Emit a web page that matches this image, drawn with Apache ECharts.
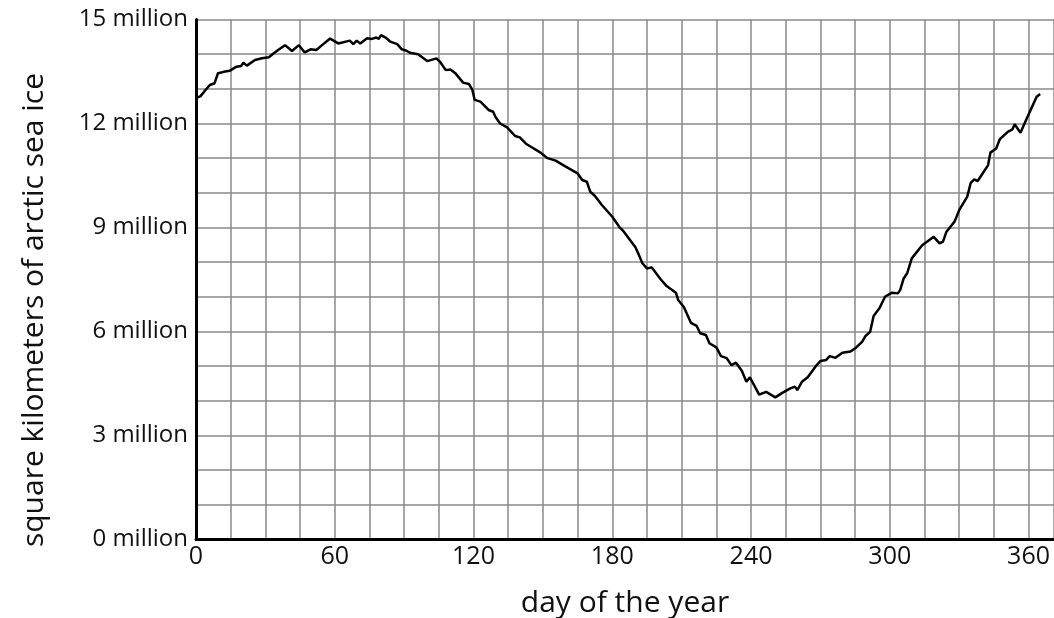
<!DOCTYPE html>
<html lang="en">
<head>
<meta charset="UTF-8">
<title>Arctic sea ice</title>
<script src="https://cdn.jsdelivr.net/npm/echarts@6/dist/echarts.min.js"></script>
<style>
  html, body { margin: 0; padding: 0; background: #fff; }
  #main { width: 1054px; height: 618px; }
</style>
</head>
<body>
<div id="main"></div>
<script>
// day of the year
var days = [0, 2, 4, 6, 8, 9.5, 12, 14.5, 17.5, 19.5, 20.5, 22, 25.5, 28.5, 31.5, 33.5, 35.5, 38.5, 41.5, 44.5,
  47, 49.5, 52, 54.5, 58, 61.5, 66.5, 68, 69.5, 71, 74, 76, 78, 79, 80, 82, 84, 87, 89, 91,
  92.5, 96, 100, 104, 105.5, 108, 110, 112, 115.5, 118, 119.5, 120.5, 123, 126.5, 128.5, 129.5, 131.5, 134.5, 138, 140,
  143, 149, 152, 155.5, 159.5, 165, 167, 169, 170.5, 172.5, 175.5, 180, 183, 185, 190, 191.5, 193, 195, 197, 201,
  203.5, 207.5, 208.5, 211, 214, 216.5, 218, 220.5, 222, 225, 227, 229.5, 231.5, 233.5, 236, 238, 239.5, 243.5, 246.5, 250.5,
  253.5, 257, 259, 260, 262, 264.5, 268, 270, 272.5, 274, 276.5, 279.5, 283, 285.5, 288, 289.5, 291.5, 293, 295.5, 298,
  301, 303.5, 304.5, 306, 307.5, 309.5, 314, 319, 321.5, 323, 324.5, 328, 330, 333.5, 335, 336.5, 338, 342.5, 343.5, 346,
  347.5, 351, 353, 354, 356.5, 359.5, 361.5, 363.5, 365];
// square kilometers of sea ice, in millions
var iceExtent = [12.73, 12.79, 12.96, 13.11, 13.16, 13.45, 13.49, 13.52, 13.64, 13.66, 13.75, 13.67, 13.83, 13.88, 13.91, 14.02, 14.12, 14.26, 14.09, 14.26,
  14.05, 14.14, 14.12, 14.26, 14.45, 14.31, 14.39, 14.29, 14.39, 14.31, 14.46, 14.44, 14.48, 14.44, 14.55, 14.48, 14.36, 14.29, 14.14, 14.10,
  14.04, 14.00, 13.80, 13.88, 13.78, 13.54, 13.56, 13.46, 13.18, 13.14, 12.97, 12.68, 12.63, 12.39, 12.34, 12.19, 12.00, 11.89, 11.64, 11.60,
  11.40, 11.16, 11.00, 10.93, 10.77, 10.56, 10.37, 10.32, 10.03, 9.91, 9.65, 9.31, 9.02, 8.88, 8.43, 8.21, 7.97, 7.82, 7.85, 7.50,
  7.31, 7.12, 6.91, 6.70, 6.25, 6.16, 5.95, 5.90, 5.66, 5.54, 5.29, 5.23, 5.03, 5.10, 4.87, 4.55, 4.68, 4.18, 4.26, 4.10,
  4.23, 4.36, 4.41, 4.31, 4.55, 4.68, 5.00, 5.15, 5.18, 5.29, 5.24, 5.39, 5.42, 5.54, 5.70, 5.87, 5.99, 6.45, 6.67, 7.01,
  7.12, 7.10, 7.20, 7.53, 7.68, 8.11, 8.49, 8.73, 8.54, 8.59, 8.88, 9.17, 9.50, 9.89, 10.29, 10.39, 10.34, 10.80, 11.16, 11.28,
  11.54, 11.76, 11.83, 11.98, 11.73, 12.19, 12.48, 12.77, 12.85];

var xLabelEvery = 60;   // labelled days
var yLabelEvery = 3;    // labelled millions

var font = '"Open Sans", sans-serif';

var points = days.map(function (d, i) { return [d, iceExtent[i]]; });

var myChart = echarts.init(document.getElementById('main'));
myChart.setOption({
  backgroundColor: '#fff',
  animation: false,
  grid: { left: 196, right: 0, top: 19.5, bottom: 78.5, outerBoundsMode: 'none' },
  xAxis: {
    type: 'value',
    min: 0,
    max: 371,
    interval: 15,
    name: 'day of the year',
    nameLocation: 'middle',
    nameGap: 49,
    nameTextStyle: { fontFamily: font, fontSize: 30, color: '#111' },
    axisLine: { lineStyle: { color: '#000', width: 3 } },
    axisTick: { show: false },
    splitLine: { lineStyle: { color: '#8a8a8a', width: 1.5 } },
    axisLabel: {
      fontFamily: font, fontSize: 25, color: '#111', margin: 5,
      formatter: function (v) { return v % xLabelEvery === 0 ? String(v) : ''; }
    }
  },
  yAxis: {
    type: 'value',
    min: 0,
    max: 15,
    interval: 1,
    axisLine: { show: true, lineStyle: { color: '#000', width: 3 } },
    axisTick: { show: false },
    splitLine: { lineStyle: { color: '#8a8a8a', width: 1.5 } },
    axisLabel: {
      fontFamily: font, fontSize: 24, color: '#111', margin: 8,
      formatter: function (v) { return v % yLabelEvery === 0 ? v + ' million' : ''; }
    }
  },
  graphic: [{
    type: 'text',
    x: 34,
    y: 310,
    rotation: Math.PI / 2,
    style: {
      text: 'square kilometers of arctic sea ice',
      fontFamily: font, fontSize: 30, fill: '#111',
      textAlign: 'center', textVerticalAlign: 'middle'
    }
  }],
  series: [{
    type: 'line',
    data: points,
    showSymbol: false,
    lineStyle: { color: '#000', width: 2.5 }
  }]
});
</script>
</body>
</html>
